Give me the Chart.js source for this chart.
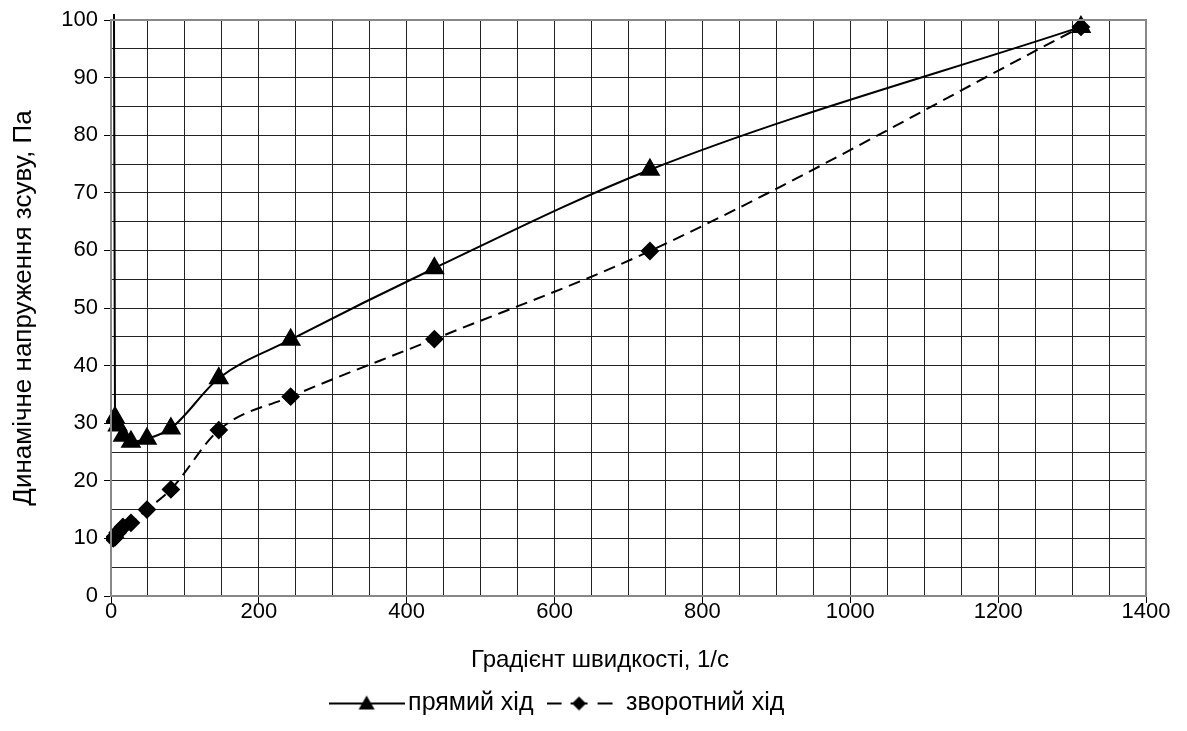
<!DOCTYPE html>
<html>
<head>
<meta charset="utf-8">
<script src="https://cdn.jsdelivr.net/npm/chart.js@4/dist/chart.umd.min.js"></script>
<style>
html, body { margin: 0; padding: 0; background: #fff; }
#wrap { width: 1187px; height: 731px; }
</style>
</head>
<body>
<div id="wrap"><canvas id="chart" width="1187" height="731"></canvas></div>
<script>
// shear rates, 1/s
var shearRates = [3, 5.4, 9, 16.2, 27, 48.6, 81, 145.8, 243, 437.4, 729, 1312];
// forward run (first value is off the top of the chart)
var forwardStress = [170, 31, 29.6, 27.8, 26.8, 27.3, 29.1, 37.8, 44.5, 56.9, 74, 98.8];
// backward run
var backwardStress = [10, 10.2, 11, 12, 12.7, 15, 18.5, 28.8, 34.6, 44.6, 59.9, 98.8];

var seriesNames = ["прямий хід", "зворотний хід"];
var xTitle = "Градієнт швидкості, 1/с";
var yTitle = "Динамічне напруження зсуву, Па";

var toPoints = function(xs, ys){
	var pts = [];
	for (var i = 0; i < xs.length; i++) {
		pts.push({x: xs[i], y: ys[i]});
	}
	return pts;
};

// legend swatch: line + marker, drawn on a small canvas
var makeSwatch = function(kind){
	var c = document.createElement("canvas");
	c.width = 76; c.height = 22;
	var g = c.getContext("2d");
	g.strokeStyle = "#000";
	g.lineWidth = 2;
	g.fillStyle = "#000";
	g.beginPath();
	if (kind === "dash") {
		g.moveTo(0, 11); g.lineTo(15, 11);
		g.moveTo(24, 11); g.lineTo(41, 11);
		g.moveTo(51, 11); g.lineTo(66, 11);
		g.stroke();
		g.beginPath();
		g.moveTo(32.5, 4); g.lineTo(39.5, 11); g.lineTo(32.5, 18); g.lineTo(25.5, 11);
	} else {
		g.moveTo(0, 11); g.lineTo(76, 11);
		g.stroke();
		g.beginPath();
		g.moveTo(38, 3); g.lineTo(46, 17); g.lineTo(30, 17);
	}
	g.closePath();
	g.fill();
	return c;
};

var font = "'Liberation Sans', Arial, sans-serif";

var ctx = document.getElementById("chart");
var myChart = new Chart(ctx, {
	type: "scatter",
	data: {
		datasets: [
			{
				label: seriesNames[0],
				data: toPoints(shearRates, forwardStress),
				showLine: true,
				borderColor: "#000",
				backgroundColor: "#000",
				borderWidth: 2,
				cubicInterpolationMode: "monotone",
				pointStyle: "triangle",
				pointRadius: 10,
				pointHoverRadius: 10,
				clip: {left: 5, top: 6, right: 5, bottom: 5}
			},
			{
				label: seriesNames[1],
				data: toPoints(shearRates, backwardStress),
				showLine: true,
				borderColor: "#000",
				backgroundColor: "#000",
				borderWidth: 2,
				borderDash: [12, 7],
				cubicInterpolationMode: "monotone",
				pointStyle: "rectRot",
				pointRadius: 8,
				pointHoverRadius: 8,
				clip: {left: 5, top: 6, right: 5, bottom: 5}
			}
		]
	},
	options: {
		responsive: false,
		animation: false,
		layout: { padding: { left: 0, right: 41, top: 20, bottom: 5 } },
		plugins: {
			tooltip: { enabled: false },
			legend: {
				position: "bottom",
				labels: {
					color: "#000",
					font: { family: font, size: 25 },
					usePointStyle: true,
					pointStyleWidth: 58,
					padding: 22,
					generateLabels: function(chart){
						return [
							{ text: seriesNames[0], pointStyle: makeSwatch("solid"), fontColor: "#000", datasetIndex: 0, lineWidth: 0 },
							{ text: seriesNames[1], pointStyle: makeSwatch("dash"), fontColor: "#000", datasetIndex: 1, lineWidth: 0 }
						];
					}
				}
			}
		},
		scales: {
			x: {
				type: "linear",
				min: 0,
				max: 1400,
				afterFit: function(scale){ scale.height = 73; },
				border: { color: "#888", width: 2 },
				grid: {
					color: "#222",
					lineWidth: 1,
					tickLength: 7,
					tickColor: function(c){ return c.tick && c.tick.value % 200 === 0 ? "#000" : "rgba(0,0,0,0)"; }
				},
				ticks: {
					stepSize: 50,
					autoSkip: false,
					maxRotation: 0,
					color: "#000",
					padding: -4,
					font: { family: font, size: 22 },
					callback: function(v){ return v % 200 === 0 ? String(v) : ""; }
				},
				title: { display: false, text: xTitle }
			},
			y: {
				min: 0,
				max: 100,
				afterFit: function(scale){ scale.width = 111; },
				border: { color: "#888", width: 2 },
				grid: {
					color: "#222",
					lineWidth: 1,
					tickLength: 7,
					tickColor: function(c){ return c.tick && c.tick.value % 10 === 0 ? "#000" : "rgba(0,0,0,0)"; }
				},
				ticks: {
					stepSize: 5,
					autoSkip: false,
					color: "#000",
					padding: 6,
					font: { family: font, size: 22 },
					callback: function(v){ return v % 10 === 0 ? String(v) : ""; }
				},
				title: {
					display: true,
					text: yTitle,
					color: "#000",
					font: { family: font, size: 26 },
					padding: { top: 8, bottom: 4 }
				}
			}
		}
	},
	plugins: [{
		id: "frame",
		afterLayout: function(chart){
			// nudge the legend a little to the left, like the original
			chart.legend.left -= 12;
			chart.legend.right -= 12;
		},
		afterDraw: function(chart){
			var a = chart.chartArea, g = chart.ctx;
			g.save();
			g.strokeStyle = "#888";
			g.lineWidth = 2;
			g.strokeRect(a.left, a.top, a.right - a.left, a.bottom - a.top);
			// x axis title, Excel puts it a bit left of the plot centre
			g.fillStyle = "#000";
			g.font = "24px " + font;
			g.textAlign = "center";
			g.textBaseline = "middle";
			g.fillText(xTitle, 600, 660);
			g.restore();
		}
	}]
});
</script>
</body>
</html>
